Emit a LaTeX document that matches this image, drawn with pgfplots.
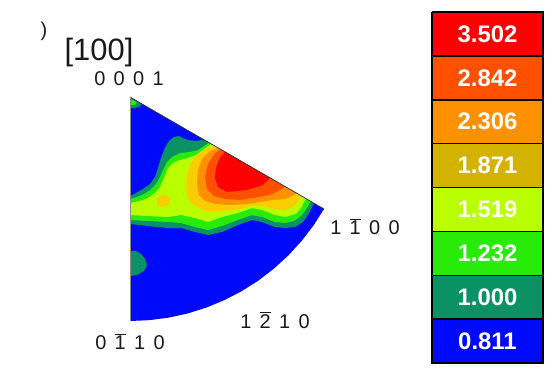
\documentclass[border=0pt]{standalone}
\usepackage{pgfplots}
\pgfplotsset{compat=1.18}
\usepackage{fontspec}
\setmainfont{Liberation Sans}
\definecolor{cblue}{RGB}{0,10,250}
\definecolor{cdkgreen}{RGB}{10,145,100}
\definecolor{cgreen}{RGB}{40,235,10}
\definecolor{cygreen}{RGB}{185,255,0}
\definecolor{cyellow}{RGB}{250,205,0}
\definecolor{cmustard}{RGB}{212,178,0}
\definecolor{corange}{RGB}{255,145,0}
\definecolor{credor}{RGB}{255,80,0}
\definecolor{cred}{RGB}{255,0,0}
\definecolor{textc}{RGB}{25,25,25}
\newcommand{\ob}[1]{$\overline{\mbox{#1}}$}
\newcommand{\dsp}{\hspace{0.42em}}
\begin{document}
\begin{tikzpicture}
\begin{axis}[at={(0,0)}, anchor=south west, x=1bp, y=1bp, scale only axis,
  xmin=0, xmax=545, ymin=0, ymax=379, y dir=reverse, hide axis, clip=false]
% sector (level 0.811)
\addplot[fill=cblue, draw=none] coordinates {(130,97)(130,321)(149.52,320.15)(168.90,317.60)(187.98,313.37)(206.61,307.49)(224.67,300.01)(242,290.99)(258.48,280.49)(273.98,268.59)(288.39,255.39)(301.59,240.98)(313.49,225.48)(323.99,209)(130,97)};
% level 1.000
\addplot[fill=cdkgreen, draw=none] coordinates {(130,196)(136,193)(143,189)(150,184)(155,177)(158,168)(161,158)(165,148)(169,141)(174,137)(179,136)(183,138)(188,140)(195,141)(202,140)(207,141.4)(314,203.2)(312,207)(308,215)(303,222)(295,227)(285,228)(275,227)(262,222)(252,220)(238,225)(222,232)(208,235)(195,232)(181,228)(168,228)(148,226)(130,224)};
\addplot[fill=cdkgreen, draw=none] coordinates {(130,251)(136,251)(141,254)(145,259)(147,265)(144,271)(137,275)(130,276)};
\addplot[fill=cdkgreen, draw=none] coordinates {(130,97)(142,103.9)(139,107)(134,108)(130,108)};
% level 1.232
\addplot[fill=cgreen, draw=none] coordinates {(130,199)(137,197)(144,194)(150,190)(156,184)(160,177)(163,170)(167,162)(172,157)(180,153)(190,152)(198,150)(204,146)(209,142.6)(311,201.5)(308,206)(305,211)(300,217)(294,221)(285,223)(275,222)(262,217)(252,215)(238,220)(222,226)(208,230)(195,227)(181,223)(168,222)(148,221)(130,220)};
\addplot[fill=cgreen, draw=none] coordinates {(130,99)(137,102)(135,105)(130,105)};
% level 1.519
\addplot[fill=cygreen, draw=none] coordinates {(130,203)(140,201)(148,198)(155,193)(160,187)(164,178)(168,168)(173,163)(180,160)(188,158)(196,155)(203,150)(211,143.8)(306,198.6)(304,202)(301,208)(296,214)(285,217)(275,215)(262,210)(252,208)(238,213)(222,217)(208,222)(195,218)(181,215)(168,217)(148,216)(130,215)};
% level 1.871
\addplot[fill=cyellow, draw=none] coordinates {(214,145.5)(205,149)(197,155)(190,164)(187,175)(186,186)(187,195)(190,202)(197,207)(205,211)(222,211)(240,209)(252,206)(262,206)(275,209)(285,210)(293,207)(298,202)(302,196.3)};
\addplot[fill=cyellow, draw=none] coordinates {(157,199)(160,196)(165,195)(169,197)(170,202)(167,206)(161,207)(157,204)};
% level 2.306
\addplot[fill=corange, draw=none] coordinates {(218,147.9)(210,151)(202,159)(198,171)(197,184)(199,195)(205,201)(215,204)(230,205)(247,204)(260,202)(272,200)(285,199)(292,196)(297,193.4)};
% level 2.842
\addplot[fill=credor, draw=none] coordinates {(221,149.5)(215,153)(208,164)(205,177)(207,189)(214,196)(225,199)(240,200)(253,198)(270,195)(280,190)(285,186.5)};
% level 3.502
\addplot[fill=cred, draw=none] coordinates {(225,151.8)(220,158)(216,168)(215,178)(218,187)(227,192)(247,190)(263,185)(270,177.8)};
% edges
\addplot[draw=black!80, line width=0.7bp] coordinates {(130,97)(323.99,209)};
\addplot[draw=black!45, line width=0.5bp] coordinates {(130,97)(130,321)};
% colour bar
\addplot[fill=cred, draw=black, line width=1.5bp] coordinates {(432,12)(543,12)(543,55.875)(432,55.875)(432,12)};
\addplot[fill=credor, draw=black, line width=1.5bp] coordinates {(432,55.875)(543,55.875)(543,99.75)(432,99.75)(432,55.875)};
\addplot[fill=corange, draw=black, line width=1.5bp] coordinates {(432,99.75)(543,99.75)(543,143.625)(432,143.625)(432,99.75)};
\addplot[fill=cmustard, draw=black, line width=1.5bp] coordinates {(432,143.625)(543,143.625)(543,187.5)(432,187.5)(432,143.625)};
\addplot[fill=cygreen, draw=black, line width=1.5bp] coordinates {(432,187.5)(543,187.5)(543,231.375)(432,231.375)(432,187.5)};
\addplot[fill=cgreen, draw=black, line width=1.5bp] coordinates {(432,231.375)(543,231.375)(543,275.25)(432,275.25)(432,231.375)};
\addplot[fill=cdkgreen, draw=black, line width=1.5bp] coordinates {(432,275.25)(543,275.25)(543,319.125)(432,319.125)(432,275.25)};
\addplot[fill=cblue, draw=black, line width=1.5bp] coordinates {(432,319.125)(543,319.125)(543,363)(432,363)(432,319.125)};
\begin{scope}[every node/.style={text=white, font=\bfseries\fontsize{24}{27}\selectfont}]
\node at (axis cs:487.5,33.94) {3.502};
\node at (axis cs:487.5,77.81) {2.842};
\node at (axis cs:487.5,121.69) {2.306};
\node at (axis cs:487.5,165.56) {1.871};
\node at (axis cs:487.5,209.44) {1.519};
\node at (axis cs:487.5,253.31) {1.232};
\node at (axis cs:487.5,297.19) {1.000};
\node at (axis cs:487.5,341.06) {0.811};
\end{scope}
% labels
\node[text=textc, font=\fontsize{31}{34}\selectfont] at (axis cs:99,53) {[100]};
\node[text=textc, font=\fontsize{20}{22}\selectfont] at (axis cs:44,31) {)};
\begin{scope}[every node/.style={text=textc, anchor=base, font=\fontsize{20}{23}\selectfont, inner sep=0pt}]
\node at (axis cs:129,85) {0\dsp0\dsp0\dsp1};
\node at (axis cs:365,234) {1\dsp\ob{1}\dsp0\dsp0};
\node at (axis cs:275,328) {1\dsp\ob{2}\dsp1\dsp0};
\node at (axis cs:130,349) {0\dsp\ob{1}\dsp1\dsp0};
\end{scope}
\end{axis}
\pgfresetboundingbox
\useasboundingbox (0,0) rectangle (545bp,379bp);
\end{tikzpicture}
\end{document}
